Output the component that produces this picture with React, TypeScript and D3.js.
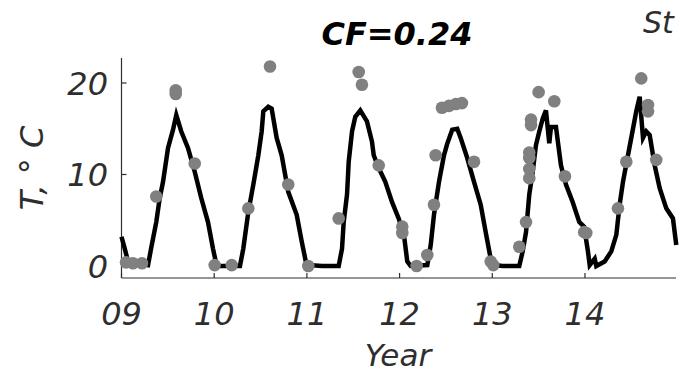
import React from "react";
import * as d3 from "d3";

// Modelled temperature line (year since 2000, °C)
const lineYears = [9.0, 9.035, 9.07, 9.286, 9.321, 9.375, 9.412, 9.448, 9.502, 9.556, 9.591, 9.645, 9.717, 9.79, 9.861, 9.933, 9.987,
  10.027, 10.278, 10.314, 10.368, 10.422, 10.476, 10.512, 10.53, 10.584, 10.62, 10.674, 10.728, 10.799, 10.89, 10.944, 10.998,
  11.019, 11.163, 11.343, 11.379, 11.397, 11.433, 11.451, 11.487, 11.522, 11.576, 11.648, 11.702, 11.721, 11.775, 11.846, 11.918, 11.99,
  12.047, 12.083, 12.12, 12.299, 12.336, 12.371, 12.425, 12.479, 12.515, 12.568, 12.622, 12.659, 12.73, 12.803, 12.875, 12.929, 12.983,
  13.022, 13.112, 13.291, 13.328, 13.364, 13.399, 13.436, 13.471, 13.507, 13.544, 13.579, 13.615, 13.633, 13.687, 13.741, 13.795, 13.867, 13.939, 13.99,
  14.032, 14.051, 14.105, 14.122, 14.212, 14.284, 14.338, 14.374, 14.41, 14.464, 14.518, 14.553, 14.59, 14.626, 14.661, 14.698, 14.752, 14.806, 14.877, 14.949, 14.985];
const lineTemps = [3.2, 1.9, 0.5, 0.1, 2.0, 4.8, 7.4, 9.2, 12.9, 14.9, 16.5, 14.7, 12.9, 10.3, 7.4, 4.8, 1.9,
  0.0, 0.0, 1.9, 5.9, 8.9, 12.1, 14.7, 16.9, 17.4, 17.2, 14.0, 12.1, 8.1, 5.6, 2.7, 0.0,
  0.1, 0.0, 0.0, 1.9, 4.8, 7.8, 11.4, 14.7, 16.3, 17.0, 15.8, 13.6, 12.1, 10.7, 9.2, 7.0, 5.2,
  3.4, 0.5, 0.0, 0.1, 2.3, 5.6, 9.2, 12.1, 13.4, 14.9, 15.0, 14.0, 11.8, 9.2, 6.7, 3.7, 0.8,
  0.1, 0.0, 0.0, 1.6, 3.7, 7.8, 10.3, 13.2, 14.7, 16.1, 17.0, 13.4, 15.2, 15.2, 11.0, 8.9, 7.0, 4.8, 4.3,
  1.6, 0.1, 0.8, 0.0, 0.5, 1.6, 3.4, 6.7, 9.2, 12.1, 15.0, 16.9, 18.5, 14.0, 14.7, 14.3, 11.0, 8.5, 6.3, 5.2, 2.3];

// Observed temperatures (dots)
const obsYears = [9.049, 9.124, 9.221, 9.375, 9.585, 9.585, 9.79,
  10.005, 10.189, 10.368, 10.602, 10.799,
  11.015, 11.343, 11.559, 11.594, 11.775, 12.029, 12.029,
  12.184, 12.299, 12.371, 12.389, 12.457, 12.533, 12.608, 12.673, 12.803, 12.983,
  13.011, 13.291, 13.364, 13.399, 13.399, 13.399, 13.399, 13.418, 13.418, 13.5, 13.669, 13.784, 13.992,
  14.014, 14.356, 14.446, 14.607, 14.68, 14.68, 14.769];
const obsTemps = [0.4, 0.3, 0.3, 7.6, 19.2, 18.8, 11.2,
  0.1, 0.1, 6.3, 21.8, 8.9,
  0.0, 5.2, 21.2, 19.8, 11.0, 4.3, 3.6,
  0.0, 1.2, 6.7, 12.1, 17.3, 17.5, 17.7, 17.8, 11.4, 0.5,
  0.1, 2.1, 4.8, 9.6, 10.6, 11.8, 12.4, 15.4, 16.0, 19.0, 18.0, 9.8, 3.7,
  3.6, 6.3, 11.4, 20.5, 17.6, 16.9, 11.6];

const xTicks = [9, 10, 11, 12, 13, 14];
const xTickLabels = ["09", "10", "11", "12", "13", "14"];
const yTicks = [0, 10, 20];
const titleText = "CF=0.24";
const cornerText = "St";
const xLabel = "Year";
const yLabel = "T, ° C";

export default function App() {
  const W = 681, H = 375;
  const x = d3.scaleLinear().domain([9, 14.982]).range([121.5, 676]);
  const y = d3.scaleLinear().domain([-1.31, 22.73]).range([278, 58]);
  const pts = lineYears.map((t, i) => [t, lineTemps[i]] as [number, number]);
  const line = d3.line<[number, number]>().x(d => x(d[0])).y(d => y(d[1]));
  const font = "'DejaVu Sans', sans-serif";
  const axisColor = "#2e2e2e";
  return (
    <svg width={W} height={H} style={{ position: "absolute", left: 0, top: 0, background: "#fff" }}
      fontFamily={font}>
      <rect width={W} height={H} fill="#fff" />
      {/* axes */}
      <line x1={x(9)} x2={x(9)} y1={y(22.73)} y2={y(-1.31)} stroke={axisColor} strokeWidth={1.2} />
      <line x1={x(9)} x2={x(14.982)} y1={y(-1.31)} y2={y(-1.31)} stroke={axisColor} strokeWidth={1.2} />
      {xTicks.map((t, i) => (
        <g key={"xt" + t}>
          <line x1={x(t)} x2={x(t)} y1={y(-1.31)} y2={y(-1.31) - 5} stroke={axisColor} strokeWidth={1.2} />
          <text x={x(t)} y={325} textAnchor="middle" fontSize={32} fontStyle="italic" fill={axisColor}>{xTickLabels[i]}</text>
        </g>
      ))}
      {yTicks.map(t => (
        <g key={"yt" + t}>
          <line x1={x(9)} x2={x(9) + 5} y1={y(t)} y2={y(t)} stroke={axisColor} strokeWidth={1.2} />
          <text x={108} y={y(t) + 12} textAnchor="end" fontSize={32} fontStyle="italic" fill={axisColor}>{t}</text>
        </g>
      ))}
      {/* data */}
      <path d={line(pts) || ""} fill="none" stroke="#000" strokeWidth={4.5} strokeLinejoin="miter" />
      {obsYears.map((t, i) => (
        <circle key={"o" + i} cx={x(t)} cy={y(obsTemps[i])} r={6.3} fill="#808080" />
      ))}
      {/* labels */}
      <text x={397} y={45} textAnchor="middle" fontSize={32} fontWeight="bold" fontStyle="italic" fill="#000">{titleText}</text>
      <text x={643} y={33} fontSize={30} fontStyle="italic" fill={axisColor}>{cornerText}</text>
      <text x={398} y={366} textAnchor="middle" fontSize={31} fontStyle="italic" fill={axisColor}>{xLabel}</text>
      <text transform="translate(43,168) rotate(-90)" textAnchor="middle" fontSize={32} fontStyle="italic" fill={axisColor}>{yLabel}</text>
    </svg>
  );
}
